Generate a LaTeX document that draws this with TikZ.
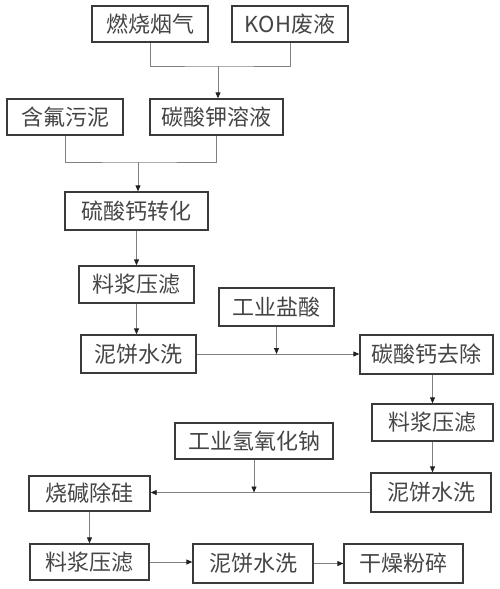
\documentclass[tikz,border=0pt]{standalone}
\usepackage{fontspec}
\setmainfont{Noto Sans CJK SC}
\usetikzlibrary{arrows.meta}
\definecolor{boxline}{HTML}{3A3A3A}
\definecolor{txt}{HTML}{454545}
\definecolor{conn}{HTML}{808080}
\definecolor{tipc}{HTML}{202020}
\tikzset{
  pbox/.style={draw=boxline, line width=1.3pt, text=txt, font=\fontsize{22}{24}\selectfont,
    inner sep=0pt, anchor=center},
  conline/.style={draw=conn, line width=0.8pt},
  arr/.style={conline, -{Triangle[length=6pt,width=5pt,color=tipc,fill=tipc]}}
}
\begin{document}
\begin{tikzpicture}[x=1pt,y=-1pt]
\useasboundingbox (0,0) rectangle (500,589);
\node[pbox, minimum width=116pt, minimum height=36pt] (a) at (150,24) {燃烧烟气};
\node[pbox, minimum width=116pt, minimum height=36pt] (b) at (290,24) {KOH废液};
\node[pbox, minimum width=116pt, minimum height=36pt] (c) at (65,117) {含氟污泥};
\node[pbox, minimum width=133pt, minimum height=36pt] (d) at (216.5,117) {碳酸钾溶液};
\node[pbox, minimum width=143pt, minimum height=38pt] (e) at (136.5,211) {硫酸钙转化};
\node[pbox, minimum width=115pt, minimum height=37pt] (f) at (136.5,284.5) {料浆压滤};
\node[pbox, minimum width=115pt, minimum height=38pt] (g) at (276.5,307) {工业盐酸};
\node[pbox, minimum width=115pt, minimum height=38pt] (h) at (138.5,354) {泥饼水洗};
\node[pbox, minimum width=133pt, minimum height=39pt] (i) at (426.5,354.5) {碳酸钙去除};
\node[pbox, minimum width=121pt, minimum height=37pt] (j) at (432.5,422.5) {料浆压滤};
\node[pbox, minimum width=158pt, minimum height=36pt] (k) at (254,441) {工业氢氧化钠};
\node[pbox, minimum width=120pt, minimum height=39pt] (l) at (431,492.5) {泥饼水洗};
\node[pbox, minimum width=121pt, minimum height=35pt] (m) at (89.5,493.5) {烧碱除硅};
\node[pbox, minimum width=119pt, minimum height=36pt] (n) at (89.5,562) {料浆压滤};
\node[pbox, minimum width=120pt, minimum height=39pt] (o) at (253,563.5) {泥饼水洗};
\node[pbox, minimum width=119pt, minimum height=39pt] (p) at (403.5,563.5) {干燥粉碎};
% joins
\coordinate (j1) at (218,66);
\coordinate (j2) at (138,162);
\draw[conline] (a.south) |- (j1) -| (b.south);
\draw[arr] (j1) -- (j1 |- d.north);
\draw[conline] (c.south) |- (j2) -| (d.south);
\draw[arr] (j2) -- (j2 |- e.north);
\draw[arr] (e.south) -- (f.north);
\draw[arr] (f.south) -- (f.south |- h.north);
\draw[arr] (h.east) -- (h.east -| i.west);
\draw[arr] (g.south) -- (g.south |- h.east);
\draw[arr] (i.south -| j.north) -- (j.north);
\draw[arr] (j.south) -- (j.south |- l.north);
\draw[arr] (l.west) -- (l.west -| m.east);
\draw[arr] (k.south) -- (k.south |- l.west);
\draw[arr] (m.south) -- (m.south |- n.north);
\draw[arr] (n.east) -- (n.east -| o.west);
\draw[arr] (o.east) -- (p.west);
\end{tikzpicture}
\end{document}
